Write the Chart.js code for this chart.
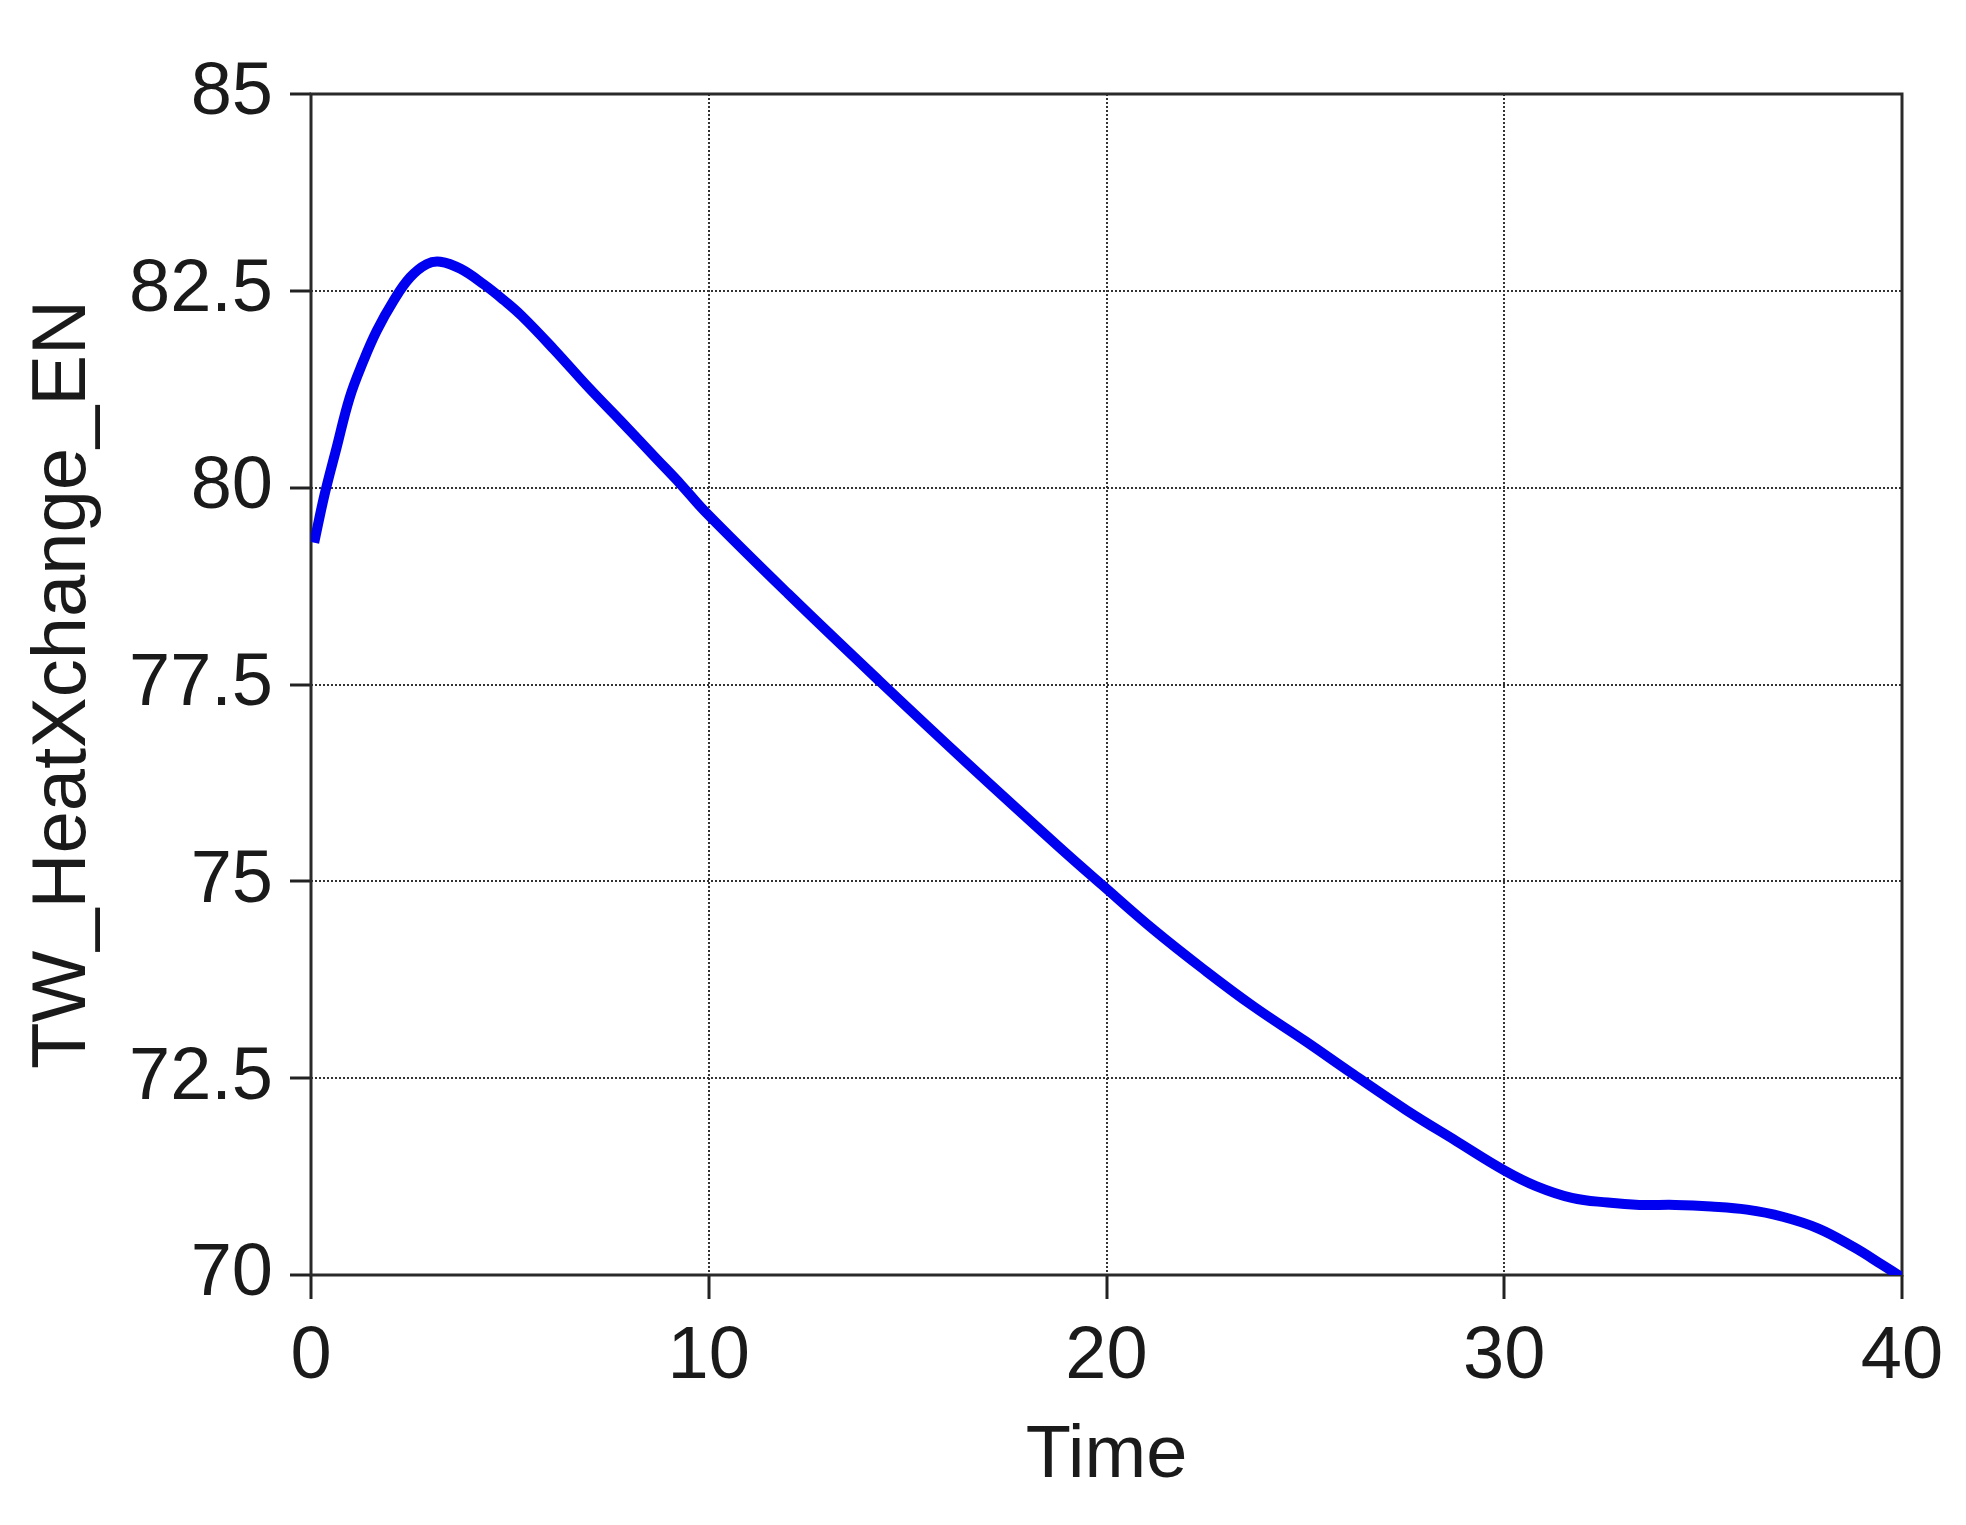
<!DOCTYPE html>
<html><head><meta charset="utf-8">
<script src="https://cdn.jsdelivr.net/npm/chart.js@4"></script>
<style>html,body{margin:0;padding:0;background:#fff;} canvas{display:block;}</style>
</head><body>
<canvas id="c" width="1966" height="1525"></canvas>
<script>
const times = [0.08, 0.34, 0.64, 0.97, 1.31, 1.65, 2.07, 2.49, 2.91, 3.25, 3.76, 4.35, 4.85, 5.3, 6.1, 7.0, 7.8, 8.7, 9.3, 9.9,
  12.0, 14.3, 16.5, 18.8, 19.9, 21.2, 22.5, 23.7, 25.0, 26.2, 27.55, 28.8, 30.0,
  30.8, 31.7, 32.6, 33.4, 34.3, 35.2, 36.1, 37.0, 37.9, 38.8, 39.5, 40.0];
const values = [79.3, 79.91, 80.5, 81.14, 81.6, 81.99, 82.37, 82.67, 82.84, 82.87, 82.78, 82.58, 82.38, 82.18, 81.76, 81.26, 80.84, 80.36, 80.04, 79.7,
  78.65, 77.54, 76.5, 75.44, 74.95, 74.38, 73.86, 73.41, 72.97, 72.55, 72.09, 71.7, 71.33,
  71.13, 70.98, 70.92, 70.89, 70.89, 70.87, 70.83, 70.74, 70.59, 70.35, 70.13, 69.97];
const xTicks = [0, 10, 20, 30, 40];
const xTickLabels = ['0', '10', '20', '30', '40'];
const yTicks = [70, 72.5, 75, 77.5, 80, 82.5, 85];
const yTickLabels = ['70', '72.5', '75', '77.5', '80', '82.5', '85'];
const xTitle = 'Time';
const yTitle = 'TW_HeatXchange_EN';

const FONT = '"Liberation Sans", Arial, sans-serif';
const TXT = '#1a1a1a';

const framePlugin = {
  id: 'frame',
  beforeDatasetsDraw(chart) {
    const a = chart.chartArea, ctx = chart.ctx;
    ctx.save();
    ctx.strokeStyle = '#2a2a2a';
    ctx.lineWidth = 3;
    ctx.setLineDash([]);
    ctx.strokeRect(a.left, a.top, a.right - a.left, a.bottom - a.top);
    ctx.restore();
  }
};

new Chart(document.getElementById('c'), {
  type: 'line',
  data: {
    datasets: [{
      data: times.map((t, i) => ({x: t, y: values[i]})),
      borderColor: '#0000f0',
      borderWidth: 10,
      pointRadius: 0,
      fill: false,
      tension: 0.4,
      borderCapStyle: 'butt',
      borderJoinStyle: 'round'
    }]
  },
  options: {
    responsive: false,
    animation: false,
    devicePixelRatio: 1,
    layout: {padding: {left: 0, top: 94, right: 64, bottom: 0}},
    plugins: {legend: {display: false}, tooltip: {enabled: false}},
    scales: {
      x: {
        type: 'linear', min: 0, max: 40,
        afterBuildTicks: s => { s.ticks = xTicks.map(v => ({value: v})); },
        afterFit: s => { s.height = 250; },
        ticks: {
          callback: v => xTickLabels[xTicks.indexOf(v)],
          font: {family: FONT, size: 74}, color: TXT, padding: 14, maxRotation: 0, autoSkip: false
        },
        grid: {color: '#333', lineWidth: 2, tickLength: 24, tickColor: '#222', tickWidth: 3, tickBorderDash: []},
        border: {display: false, dash: [2, 2]},
        title: {display: true, text: xTitle, font: {family: FONT, size: 74}, color: TXT, padding: {top: 0, bottom: 24}}
      },
      y: {
        type: 'linear', min: 70, max: 85,
        afterBuildTicks: s => { s.ticks = yTicks.map(v => ({value: v})); },
        afterFit: s => { s.width = 311; },
        ticks: {
          callback: v => yTickLabels[yTicks.indexOf(v)],
          font: {family: FONT, size: 74}, color: TXT, padding: 17, autoSkip: false
        },
        grid: {color: '#333', lineWidth: 2, tickLength: 21, tickColor: '#222', tickWidth: 3, tickBorderDash: []},
        border: {display: false, dash: [2, 2]},
        title: {display: true, text: yTitle, font: {family: FONT, size: 76}, color: TXT, padding: {top: 18, bottom: 0}}
      }
    }
  },
  plugins: [framePlugin]
});
</script>
</body></html>
